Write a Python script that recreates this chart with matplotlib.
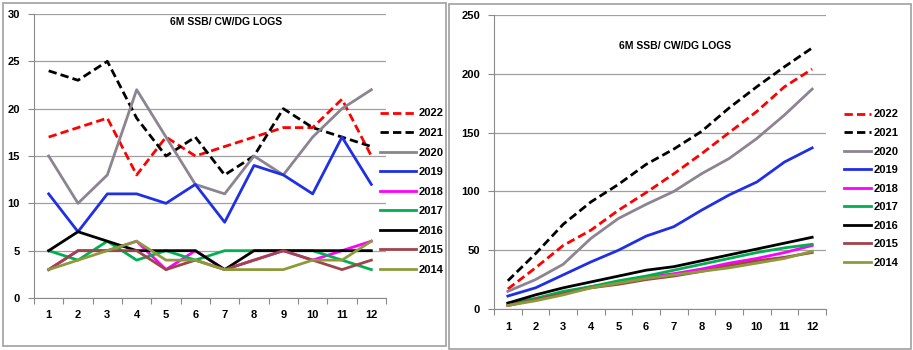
import numpy as np
import matplotlib
matplotlib.use("Agg")
import matplotlib.pyplot as plt
from matplotlib.patches import Rectangle

plt.rcParams['font.family'] = ['Liberation Sans', 'DejaVu Sans']

months = list(range(1, 13))
years = ["2022", "2021", "2020", "2019", "2018", "2017", "2016", "2015", "2014"]

# monthly log counts
y2022 = [17, 18, 19, 13, 17, 15, 16, 17, 18, 18, 21, 15]
y2021 = [24, 23, 25, 19, 15, 17, 13, 15, 20, 18, 17, 16]
y2020 = [15, 10, 13, 22, 17, 12, 11, 15, 13, 17, 20, 22]
y2019 = [11, 7, 11, 11, 10, 12, 8, 14, 13, 11, 17, 12]
y2018 = [3, 5, 5, 6, 3, 5, 3, 4, 5, 4, 5, 6]
y2017 = [5, 4, 6, 4, 5, 4, 5, 5, 5, 5, 4, 3]
y2016 = [5, 7, 6, 5, 5, 5, 3, 5, 5, 5, 5, 5]
y2015 = [3, 5, 5, 5, 3, 4, 3, 4, 5, 4, 3, 4]
y2014 = [3, 4, 5, 6, 4, 4, 3, 3, 3, 4, 4, 6]
monthly = [y2022, y2021, y2020, y2019, y2018, y2017, y2016, y2015, y2014]

colors = ["#ff0000", "#000000", "#8c8490", "#1f2fe6", "#ff00ff",
          "#00b050", "#000000", "#a0444a", "#8c9a3c"]
styles = ["--", "--", "-", "-", "-", "-", "-", "-", "-"]

title = "6M SSB/ CW/DG LOGS"

fig = plt.figure(figsize=(9.13, 3.5), dpi=100)

# panel frames like excel chart objects
fig.add_artist(Rectangle((3/913, 4/350), 443/913, 343/350, transform=fig.transFigure,
                         fill=False, edgecolor="#a0a0a0", lw=1.2))
fig.add_artist(Rectangle((449/913, 1/350), 462/913, 345/350, transform=fig.transFigure,
                         fill=False, edgecolor="#a0a0a0", lw=1.2))

ax1 = fig.add_axes([34/913, 52/350, 352/913, 284/350])
ax2 = fig.add_axes([494/913, 41/350, 332/913, 294/350])


def style_axes(ax, ymax, ystep):
    ax.set_xlim(0.5, 12.5)
    ax.set_ylim(0, ymax)
    ax.set_yticks(np.arange(0, ymax + 1, ystep))
    ax.yaxis.grid(True, color="#a0a0a0", lw=0.9)
    ax.set_axisbelow(True)
    for s in ["top", "right"]:
        ax.spines[s].set_visible(False)
    for s in ["left", "bottom"]:
        ax.spines[s].set_color("#8a8a8a")
    ax.set_xticks(np.arange(0.5, 13, 1))
    ax.set_xticklabels([])
    ax.set_xticks(months, minor=True)
    ax.set_xticklabels([str(m) for m in months], minor=True)
    ax.tick_params(axis="x", which="major", length=4, color="#8a8a8a")
    ax.tick_params(axis="x", which="minor", length=0, pad=9)
    ax.tick_params(axis="y", length=4, color="#8a8a8a", pad=6)
    for lab in ax.get_xticklabels(minor=True) + ax.get_yticklabels():
        lab.set_fontweight("bold")
        lab.set_fontsize(8)


# left: monthly counts
for yr, vals, c, ls in zip(years, monthly, colors, styles):
    ax1.plot(months, vals, color=c, ls=ls, lw=2, label=yr,
             dashes=(3, 1.5) if ls == "--" else (None, None))
style_axes(ax1, 30, 5)
ax1.text(0.545, 0.99, title, transform=ax1.transAxes, ha="center", va="top",
         fontsize=7.5, fontweight="bold")
leg1 = ax1.legend(loc="upper left", bbox_to_anchor=(376/913, 1 - 104/350),
                  bbox_transform=fig.transFigure, frameon=False, handlelength=3.2,
                  handletextpad=0.2, labelspacing=0.86, borderaxespad=0,
                  prop={"weight": "bold", "size": 8})

# right: running totals of the same logs
for yr, vals, c, ls in zip(years, monthly, colors, styles):
    ax2.plot(months, np.cumsum(vals), color=c, ls=ls, lw=2, label=yr,
             dashes=(3, 1.5) if ls == "--" else (None, None))
style_axes(ax2, 250, 50)
ax2.text(0.545, 0.91, title, transform=ax2.transAxes, ha="center", va="top",
         fontsize=7.5, fontweight="bold")
leg2 = ax2.legend(loc="upper left", bbox_to_anchor=(840/913, 1 - 105/350),
                  bbox_transform=fig.transFigure, frameon=False, handlelength=2.4,
                  handletextpad=0.2, labelspacing=0.77, borderaxespad=0,
                  prop={"weight": "bold", "size": 8})

fig.savefig("out.png", dpi=100)
